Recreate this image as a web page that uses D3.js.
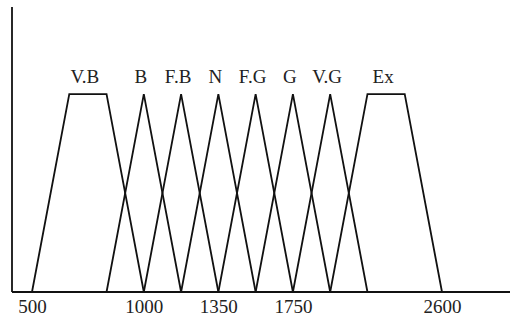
<!DOCTYPE html>
<html>
<head>
<meta charset="utf-8">
<script src="https://cdn.jsdelivr.net/npm/d3@7"></script>
<style>
  body { margin: 0; background: #fff; }
  svg { display: block; }
  .mf { fill: none; stroke: #111; stroke-width: 1.8; }
  .lbl { font-family: 'Liberation Serif', 'Times New Roman', serif; font-size: 19px; fill: #222; }
</style>
</head>
<body>
<svg id="chart" width="510" height="322"></svg>
<script>
// breakpoints on the x axis (evenly spaced in the figure)
const breakpoints = [500, 667, 833, 1000, 1175, 1350, 1550, 1750, 1950, 2175, 2400, 2600];
const tickValues = [500, 1000, 1350, 1750, 2600];

const categories = ['V.B', 'B', 'F.B', 'N', 'F.G', 'G', 'V.G', 'Ex'];
// membership function corners: x values and degree of membership
const mfX = [
  [500, 667, 833, 1000],
  [833, 1000, 1175],
  [1000, 1175, 1350],
  [1175, 1350, 1550],
  [1350, 1550, 1750],
  [1550, 1750, 1950],
  [1750, 1950, 2175],
  [1950, 2175, 2400, 2600]
];
const mfY = [
  [0, 1, 1, 0],
  [0, 1, 0],
  [0, 1, 0],
  [0, 1, 0],
  [0, 1, 0],
  [0, 1, 0],
  [0, 1, 0],
  [0, 1, 1, 0]
];

const svg = d3.select('#chart');
const margin = {top: 7, right: 0, bottom: 30, left: 12};
const width = +svg.attr('width') - margin.left - margin.right;
const height = +svg.attr('height') - margin.top - margin.bottom;
const g = svg.append('g').attr('transform', 'translate(' + margin.left + ',' + margin.top + ')');

const x = d3.scalePoint().domain(breakpoints).range([20, 430]);
const y = d3.scaleLinear().domain([0, 1.44]).range([height, 0]);

const line = d3.line()
  .x(d => x(d[0]))
  .y(d => y(d[1]));

// membership functions
g.selectAll('path.mf')
  .data(categories)
  .enter().append('path')
  .attr('class', 'mf')
  .attr('d', (c, i) => line(mfX[i].map((v, j) => [v, mfY[i][j]])));

// labels above each function
g.selectAll('text.name')
  .data(categories)
  .enter().append('text')
  .attr('class', 'lbl name')
  .attr('text-anchor', 'middle')
  .attr('x', (c, i) => d3.mean(mfX[i].filter((v, j) => mfY[i][j] === 1), v => x(v)) - 3)
  .attr('y', y(1) - 11)
  .text(c => c);

// x axis
const xAxis = g.append('g')
  .attr('transform', 'translate(0,' + height + ')')
  .call(d3.axisBottom(x).tickValues(tickValues).tickSize(0));
xAxis.select('.domain').remove();
xAxis.selectAll('text')
  .attr('class', 'lbl')
  .attr('fill', null)
  .attr('y', 21)
  .attr('dy', 0)
  .attr('font-size', null)
  .attr('font-family', null);

// axis lines
g.append('line')
  .attr('x1', 0).attr('x2', width)
  .attr('y1', height).attr('y2', height)
  .attr('stroke', '#111').attr('stroke-width', 1.8);
g.append('line')
  .attr('x1', 0).attr('x2', 0)
  .attr('y1', 0).attr('y2', height)
  .attr('stroke', '#111').attr('stroke-width', 1.8);
</script>
</body>
</html>
